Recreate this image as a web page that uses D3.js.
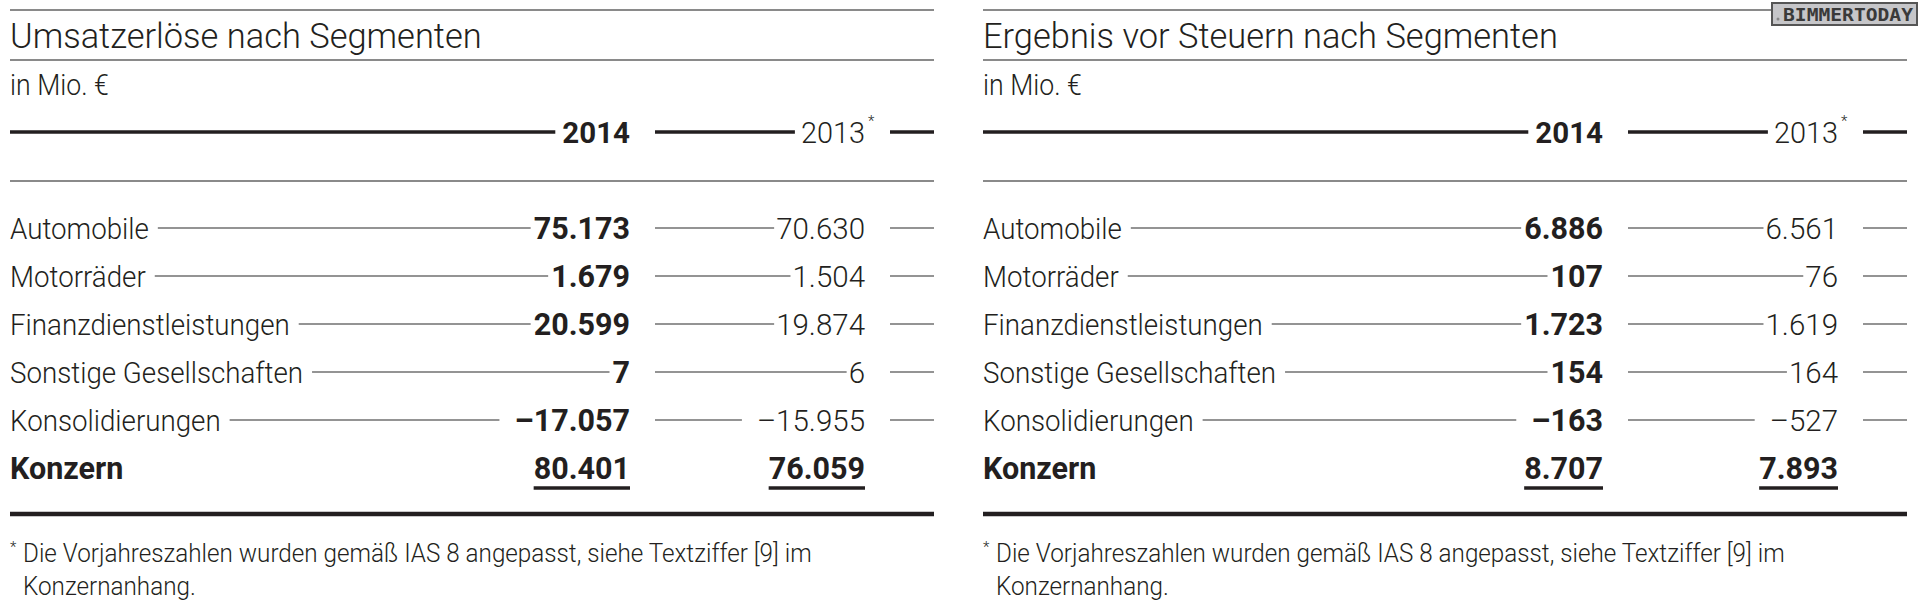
<!DOCTYPE html>
<html>
<head>
<meta charset="utf-8">
<script src="https://cdn.jsdelivr.net/npm/d3@7"></script>
<style>
  body { margin: 0; background: #fff; }
  svg text { font-family: Roboto, "Liberation Sans", sans-serif; fill: #231f20; }
  .light { font-weight: 300; }
  .bold { font-weight: 700; }
</style>
</head>
<body>
<svg id="chart" width="1920" height="609"></svg>
<script>
// data
var segments = ["Automobile", "Motorräder", "Finanzdienstleistungen", "Sonstige Gesellschaften", "Konsolidierungen"];
var totalLabel = "Konzern";
var years = ["2014", "2013"];

var umsatz2014 = [75173, 1679, 20599, 7, -17057];
var umsatz2013 = [70630, 1504, 19874, 6, -15955];
var umsatzTotal = [80401, 76059];

var ergebnis2014 = [6886, 107, 1723, 154, -163];
var ergebnis2013 = [6561, 76, 1619, 164, -527];
var ergebnisTotal = [8707, 7893];

var titles = ["Umsatzerlöse nach Segmenten", "Ergebnis vor Steuern nach Segmenten"];
var unitLabel = "in Mio. €";
var footnote = ["Die Vorjahreszahlen wurden gemäß IAS 8 angepasst, siehe Textziffer [9] im", "Konzernanhang."];

var de = d3.formatLocale({ decimal: ",", thousands: ".", grouping: [3], currency: ["", " €"], minus: "–" });
var fmt = de.format(",d");

var params = {
  "panelWidth": 924,
  "panels": [10, 983],
  "lineDark": "#231f20",
  "lineGrey": "#8a8a8a",
  "leader": "#707070"
};

var svg = d3.select("#chart");

// row and column positions
var rowScale = d3.scaleBand()
  .domain(segments.concat([totalLabel]))
  .range([204, 492]);

var colScale = d3.scaleOrdinal()
  .domain(["start", "2014", "gap1", "2013", "gap2", "end"])
  .range([0, 620, 645, 855, 880, 924]);

function rowY(name) { return rowScale(name) + rowScale.bandwidth() / 2; }

function hline(g, x1, x2, y, color, width) {
  g.append("line")
    .attr("x1", x1).attr("x2", x2)
    .attr("y1", y).attr("y2", y)
    .attr("stroke", color)
    .attr("stroke-width", width);
}

// text with optional horizontal squeeze; returns drawn width
function addText(g, x, y, str, cls, size, sx, anchor) {
  var t = g.append("text")
    .attr("class", cls)
    .attr("transform", "translate(" + x + "," + y + ") scale(" + (sx || 1) + ",1)")
    .attr("text-anchor", anchor || "start")
    .attr("font-size", size)
    .text(str);
  return t.node().getComputedTextLength() * (sx || 1);
}

function drawPanel(x0, title, vals14, vals13, totals) {
  var g = svg.append("g").attr("transform", "translate(" + x0 + ",0)");
  var W = params.panelWidth;

  hline(g, 0, W, 10, params.lineGrey, 2);
  addText(g, 0, 48, title, "light", 34.8, 0.99);
  hline(g, 0, W, 60, params.lineGrey, 2);

  addText(g, 0, 95, unitLabel, "light", 29, 0.92);

  // header row
  var hy = 132;
  var w14 = addText(g, colScale("2014"), hy + 10.5, years[0], "bold", 29.5, 1.0, "end");
  hline(g, 0, colScale("2014") - w14 - 7, hy, params.lineDark, 3.5);

  var w13 = addText(g, colScale("2013"), hy + 10.5, years[1], "light", 29.5, 0.98, "end");
  addText(g, colScale("2013") + 3, hy - 6, "*", "light", 15, 1);
  hline(g, colScale("gap1"), colScale("2013") - w13 - 6, hy, params.lineDark, 3.5);
  hline(g, colScale("gap2"), colScale("end"), hy, params.lineDark, 3.5);

  hline(g, 0, W, 181, params.lineGrey, 2);

  // segment rows
  segments.forEach(function(name, i) {
    var y = rowY(name);
    var lw = addText(g, 0, y + 10.5, name, "light", 29.5, 0.94);

    var v1w = addText(g, colScale("2014"), y + 10.5, fmt(vals14[i]), "bold", 30.5, 1.0, "end");
    var gap1 = vals14[i] < 0 ? 15 : 3;
    hline(g, lw + 9, colScale("2014") - v1w - gap1, y, params.leader, 1.5);

    var v2w = addText(g, colScale("2013"), y + 10.5, fmt(vals13[i]), "light", 29.5, 1.0, "end");
    var gap2 = vals13[i] < 0 ? 15 : 2;
    hline(g, colScale("gap1"), colScale("2013") - v2w - gap2, y, params.leader, 1.5);
    hline(g, colScale("gap2"), colScale("end"), y, params.leader, 1.5);
  });

  // total row
  var ty = rowY(totalLabel);
  addText(g, 0, ty + 10.5, totalLabel, "bold", 30.5, 1.0);
  ["2014", "2013"].forEach(function(col, j) {
    var tw = addText(g, colScale(col), ty + 10.5, fmt(totals[j]), "bold", 30.5, 1.0, "end");
    hline(g, colScale(col) - tw, colScale(col), ty + 20, params.lineDark, 3.5);
  });

  hline(g, 0, W, 514, params.lineDark, 4.5);

  // footnote
  addText(g, 0, 552, "*", "light", 15, 1);
  footnote.forEach(function(line, k) {
    addText(g, 13, 562 + k * 33, line, "light", 25, 0.97);
  });
}

drawPanel(params.panels[0], titles[0], umsatz2014, umsatz2013, umsatzTotal);
drawPanel(params.panels[1], titles[1], ergebnis2014, ergebnis2013, ergebnisTotal);

// watermark
var wm = svg.append("g").attr("transform", "translate(1772,3)");
wm.append("rect")
  .attr("width", 145).attr("height", 22)
  .attr("fill", "#c6c6c9")
  .attr("stroke", "#555")
  .attr("stroke-width", 2);
wm.append("circle").attr("cx", 6).attr("cy", 16).attr("r", 1.5).attr("fill", "#888");
wm.append("text")
  .attr("x", 11).attr("y", 18)
  .attr("font-size", 18.5)
  .attr("font-weight", 700)
  .style("font-family", "'DejaVu Sans Mono', monospace")
  .style("fill", "#3a3a3a")
  .attr("textLength", 130)
  .attr("lengthAdjust", "spacingAndGlyphs")
  .text("BIMMERTODAY");
</script>
</body>
</html>
